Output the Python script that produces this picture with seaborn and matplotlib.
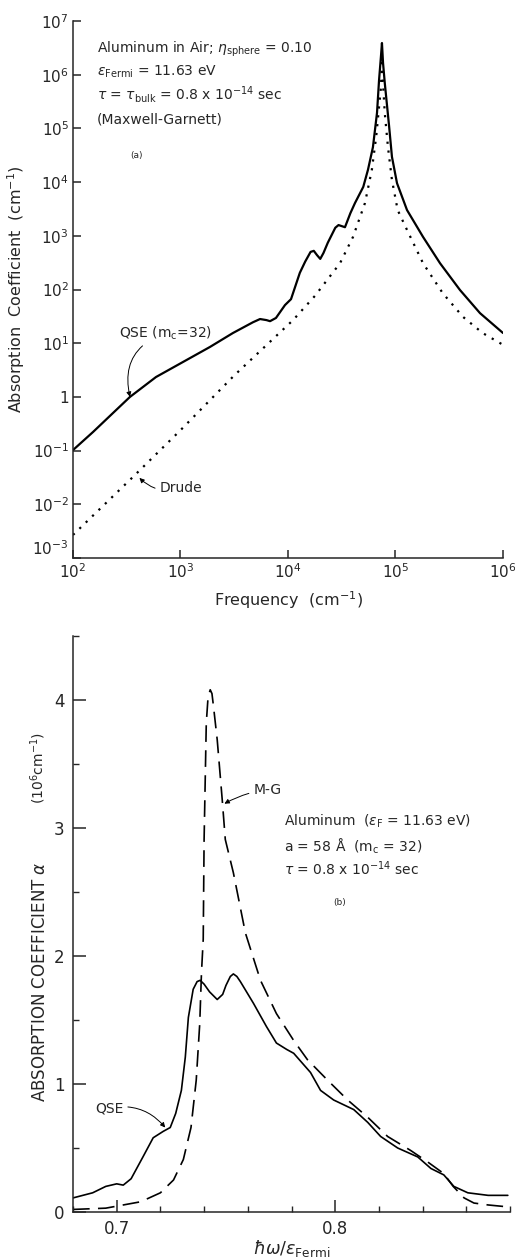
import numpy as np
import matplotlib
matplotlib.use("Agg")
import matplotlib.pyplot as plt
from matplotlib.ticker import NullLocator, MultipleLocator
import seaborn as sns

# ---------------- data: panel (a) (log10 values) -------------
qse_a_logf = [2.00, 2.186, 2.372, 2.53, 2.772, 3.023, 3.274, 3.488, 3.674, 3.74, 3.80,
              3.833, 3.888, 3.972, 4.028, 4.11, 4.16, 4.21, 4.24, 4.27, 4.30, 4.33,
              4.37, 4.44, 4.47, 4.50, 4.53, 4.58, 4.623, 4.70, 4.744, 4.79, 4.828,
              4.847, 4.865, 4.874, 4.884, 4.90, 4.92, 4.94, 4.967, 5.014, 5.107,
              5.256, 5.414, 5.60, 5.786, 6.00]
qse_a_loga = [-0.99, -0.654, -0.30, 0.00, 0.37, 0.65, 0.93, 1.19, 1.39, 1.45, 1.43,
              1.41, 1.47, 1.71, 1.82, 2.31, 2.52, 2.70, 2.72, 2.64, 2.57, 2.68,
              2.87, 3.15, 3.20, 3.18, 3.16, 3.42, 3.61, 3.91, 4.23, 4.65, 5.29,
              5.90, 6.35, 6.59, 6.22, 5.85, 5.45, 5.05, 4.47, 3.98, 3.48,
              2.98, 2.49, 1.99, 1.56, 1.19]

drude_logf = [2.00, 2.558, 3.00, 3.50, 4.047, 4.25, 4.484, 4.605, 4.716, 4.78, 4.82,
              4.847, 4.865, 4.874, 4.885, 4.90, 4.93, 4.967, 5.02, 5.107, 5.256, 5.44,
              5.628, 5.81, 6.00]
drude_loga = [-2.57, -1.49, -0.62, 0.40, 1.43, 1.88, 2.49, 2.98, 3.61, 4.23, 4.84,
              5.40, 5.77, 6.30, 5.80, 5.29, 4.65, 4.04, 3.48, 3.11, 2.49, 1.93,
              1.49, 1.19, 0.97]

xticks_a = [1e2, 1e3, 1e4, 1e5, 1e6]
xticklabels_a = [r"$10^{2}$", r"$10^{3}$", r"$10^{4}$", r"$10^{5}$", r"$10^{6}$"]
yticks_a = [1e-3, 1e-2, 1e-1, 1, 1e1, 1e2, 1e3, 1e4, 1e5, 1e6, 1e7]
yticklabels_a = [r"$10^{-3}$", r"$10^{-2}$", r"$10^{-1}$", "1", r"$10^{1}$", r"$10^{2}$",
                 r"$10^{3}$", r"$10^{4}$", r"$10^{5}$", r"$10^{6}$", r"$10^{7}$"]

# ---------------- data: panel (b) -------------
qse_b_x = [0.680, 0.689, 0.695, 0.700, 0.703, 0.7066, 0.712, 0.7167, 0.7213, 0.7245,
           0.727, 0.7296, 0.7314, 0.7328, 0.735, 0.7368, 0.7382, 0.740, 0.7425, 0.746,
           0.7485, 0.750, 0.752, 0.7534, 0.755, 0.7566, 0.7626, 0.7685, 0.7731, 0.7778,
           0.781, 0.7887, 0.7933, 0.7993, 0.8085, 0.8149, 0.8208, 0.8286, 0.8378,
           0.8438, 0.8497, 0.8543, 0.8607, 0.870, 0.879]
qse_b_y = [0.11, 0.15, 0.20, 0.22, 0.21, 0.26, 0.43, 0.58, 0.63, 0.66, 0.77, 0.95,
           1.21, 1.52, 1.74, 1.80, 1.81, 1.78, 1.72, 1.66, 1.70, 1.77, 1.84, 1.86,
           1.84, 1.80, 1.63, 1.45, 1.32, 1.27, 1.24, 1.09, 0.95, 0.875, 0.80, 0.70,
           0.59, 0.50, 0.43, 0.34, 0.29, 0.20, 0.15, 0.13, 0.13]

mg_x = [0.680, 0.695, 0.711, 0.720, 0.726, 0.7305, 0.734, 0.7364, 0.738, 0.7388,
        0.7396, 0.740, 0.741, 0.7418, 0.7428, 0.7436, 0.7443, 0.746, 0.7483, 0.7497,
        0.7534, 0.7589, 0.7658, 0.7731, 0.781, 0.7873, 0.7965, 0.8057, 0.8149, 0.824,
        0.8346, 0.8424, 0.8497, 0.854, 0.859, 0.8635, 0.870, 0.879]
mg_y = [0.02, 0.03, 0.08, 0.15, 0.25, 0.41, 0.66, 1.03, 1.47, 1.87, 2.13, 2.91, 3.82,
        4.02, 4.08, 4.05, 3.95, 3.69, 3.22, 2.91, 2.65, 2.18, 1.81, 1.55, 1.34, 1.19,
        1.03, 0.875, 0.74, 0.59, 0.48, 0.39, 0.30, 0.20, 0.11, 0.07, 0.055, 0.04]

xticks_b = [0.7, 0.8]
xticklabels_b = ["0.7", "0.8"]
yticks_b = [0, 1, 2, 3, 4]
yticklabels_b = ["0", "1", "2", "3", "4"]

# ---------------- style -------------
sns.set_style("ticks")
plt.rcParams["font.family"] = ["DejaVu Sans"]
plt.rcParams["mathtext.fontset"] = "dejavusans"
plt.rcParams["axes.linewidth"] = 1.1

W, H = 515, 1260
fig = plt.figure(figsize=(W / 100, H / 100), dpi=100)

def rect(l, t, r, b):
    return [l / W, 1 - b / H, (r - l) / W, (b - t) / H]

# ================= panel (a) =================
ax1 = fig.add_axes(rect(73, 21, 503, 558))
ax1.set_xscale("log")
ax1.set_yscale("log")
sns.lineplot(x=[10 ** v for v in qse_a_logf], y=[10 ** v for v in qse_a_loga],
             ax=ax1, color="black", lw=1.6, sort=False)
sns.lineplot(x=[10 ** v for v in drude_logf], y=[10 ** v for v in drude_loga],
             ax=ax1, color="black", lw=1.6, linestyle=(0, (1, 3)), sort=False)
ax1.set_xlim(1e2, 1e6)
ax1.set_ylim(1e-3, 1e7)
ax1.set_xticks(xticks_a)
ax1.set_xticklabels(xticklabels_a, fontsize=11)
ax1.set_yticks(yticks_a)
ax1.set_yticklabels(yticklabels_a, fontsize=11)
ax1.get_yticklabels()[0].set_va("bottom")
ax1.xaxis.set_minor_locator(NullLocator())
ax1.yaxis.set_minor_locator(NullLocator())
ax1.tick_params(direction="in", length=6, width=1.1, pad=3)
for s in ["top", "right"]:
    ax1.spines[s].set_visible(False)
ax1.set_xlabel(r"Frequency  (cm$^{-1}$)", fontsize=11.5, labelpad=6)
ax1.set_ylabel(r"Absorption  Coefficient  (cm$^{-1}$)", fontsize=11.5, labelpad=4)

tfs = 10
ax1.text(0.056, 0.942, r"Aluminum in Air; $\eta_{\rm sphere}$ = 0.10",
         transform=ax1.transAxes, fontsize=tfs, va="baseline")
ax1.text(0.056, 0.899, r"$\epsilon_{\rm Fermi}$ = 11.63 eV",
         transform=ax1.transAxes, fontsize=tfs, va="baseline")
ax1.text(0.056, 0.853, r"$\tau$ = $\tau_{\rm bulk}$ = 0.8 x 10$^{-14}$ sec",
         transform=ax1.transAxes, fontsize=tfs, va="baseline")
ax1.text(0.056, 0.810, "(Maxwell-Garnett)",
         transform=ax1.transAxes, fontsize=tfs, va="baseline")
ax1.text(0.133, 0.745, "(a)", transform=ax1.transAxes, fontsize=6.5, va="baseline")

ax1.annotate(r"QSE (m$_{\rm c}$=32)", xy=(10 ** 2.53, 10 ** 0.0),
             xytext=(270, 15.5), fontsize=tfs, va="center", ha="left",
             arrowprops=dict(arrowstyle="-|>", color="black", lw=0.7,
                             mutation_scale=7, shrinkA=1, shrinkB=0,
                             connectionstyle="arc3,rad=0.45"))
ax1.annotate("Drude", xy=(415, 0.031), xytext=(640, 0.02), fontsize=tfs,
             va="center", ha="left",
             arrowprops=dict(arrowstyle="-|>", color="black", lw=0.7,
                             mutation_scale=7, shrinkA=1, shrinkB=0,
                             connectionstyle="arc3,rad=-0.3"))

# ================= panel (b) =================
ax2 = fig.add_axes(rect(73, 636, 510, 1212))
sns.lineplot(x=qse_b_x, y=qse_b_y, ax=ax2, color="black", lw=1.2, sort=False)
sns.lineplot(x=mg_x, y=mg_y, ax=ax2, color="black", lw=1.2,
             linestyle=(0, (10, 5)), sort=False)
ax2.set_xlim(0.68, 0.88)
ax2.set_ylim(0, 4.5)
ax2.set_xticks(xticks_b)
ax2.set_xticklabels(xticklabels_b, fontsize=12)
ax2.set_yticks(yticks_b)
ax2.set_yticklabels(yticklabels_b, fontsize=12)
ax2.xaxis.set_minor_locator(MultipleLocator(0.02))
ax2.yaxis.set_minor_locator(MultipleLocator(0.5))
ax2.tick_params(which="major", direction="in", length=9, width=1.1, pad=6)
ax2.tick_params(which="minor", direction="in", length=4, width=1.0)
for s in ["top", "right"]:
    ax2.spines[s].set_visible(False)
ax2.set_xlabel(r"$\hbar\omega/\epsilon_{\rm Fermi}$", fontsize=12.5, labelpad=0)
ax2.set_ylabel("")
fig.text(40 / W, 1 - 982 / H, r"ABSORPTION COEFFICIENT $\alpha$", rotation=90,
         fontsize=12, ha="center", va="center")
fig.text(38 / W, 1 - 768 / H, r"(10$^{6}$cm$^{-1}$)", rotation=90,
         fontsize=10, ha="center", va="center")

ax2.text(0.483, 0.670, r"Aluminum  ($\epsilon_{\rm F}$ = 11.63 eV)",
         transform=ax2.transAxes, fontsize=tfs, va="baseline")
ax2.text(0.483, 0.625, r"a = 58 $\rm\AA$  (m$_{\rm c}$ = 32)",
         transform=ax2.transAxes, fontsize=tfs, va="baseline")
ax2.text(0.483, 0.585, r"$\tau$ = 0.8 x 10$^{-14}$ sec",
         transform=ax2.transAxes, fontsize=tfs, va="baseline")
ax2.text(0.595, 0.533, "(b)", transform=ax2.transAxes, fontsize=6.5, va="baseline")

ax2.annotate("M-G", xy=(0.7493, 3.19), xytext=(0.7626, 3.30), fontsize=tfs,
             va="center", ha="left",
             arrowprops=dict(arrowstyle="-|>", color="black", lw=0.7,
                             mutation_scale=7, shrinkA=1, shrinkB=0,
                             connectionstyle="arc3,rad=0.1"))
ax2.annotate("QSE", xy=(0.7222, 0.66), xytext=(0.690, 0.81), fontsize=tfs,
             va="center", ha="left",
             arrowprops=dict(arrowstyle="-|>", color="black", lw=0.7,
                             mutation_scale=7, shrinkA=1, shrinkB=0,
                             connectionstyle="arc3,rad=-0.3"))

fig.savefig("out.png", dpi=100)
